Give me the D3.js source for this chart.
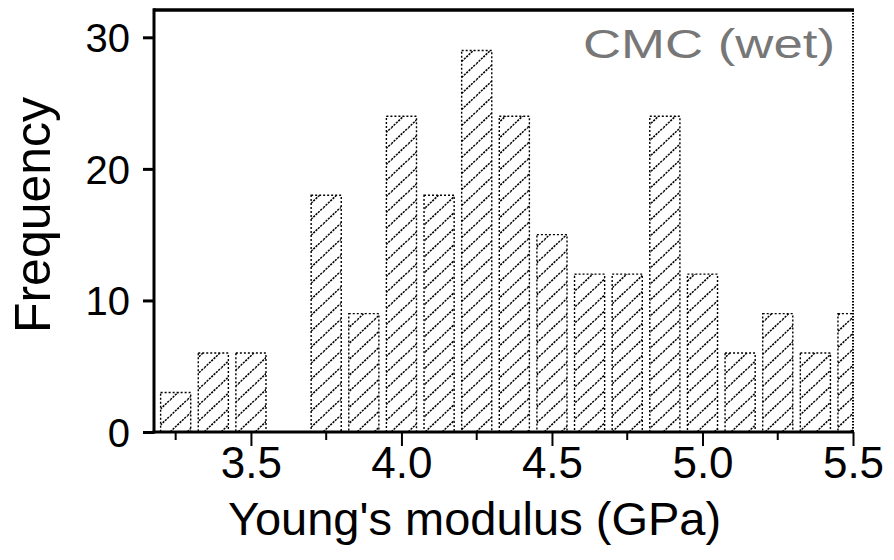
<!DOCTYPE html>
<html><head><meta charset="utf-8">
<script src="https://cdn.jsdelivr.net/npm/d3@7"></script>
<style>body{margin:0;background:#fff}svg{display:block}text{font-family:"Liberation Sans",Arial,sans-serif}</style>
</head><body>
<svg id="c" width="894" height="560"></svg>
<script>
const binCenters = [3.25,3.375,3.5,3.625,3.75,3.875,4.0,4.125,4.25,4.375,4.5,4.625,4.75,4.875,5.0,5.125,5.25,5.375,5.5];
const frequency  = [3,6,6,0,18,9,24,18,29,24,15,12,12,24,12,6,9,6,9];
const xTickMajor = [3.5,4.0,4.5,5.0,5.5];
const xTickMinor = [3.25,3.75,4.25,4.75,5.25];
const yTicks = [0,10,20,30];
const xTitle = "Young's modulus (GPa)";
const yTitle = "Frequency";
const label = "CMC (wet)";

const svg = d3.select("#c");
const L=154, R=853, T=10, B=432;
const x = d3.scaleLinear().domain([3.178,5.5]).range([L,R]);
const y = d3.scaleLinear().domain([0,32]).range([B,11]);
const bw = 0.1;

const defs = svg.append("defs");
const PW=17, PH=16;
const pat = defs.append("pattern").attr("id","hatch").attr("patternUnits","userSpaceOnUse")
  .attr("width",PW).attr("height",PH);
pat.append("path").attr("d",`M-2,${PH+2*PH/PW} L${PW+2},${-2*PH/PW} M${-PW-2},${PH+2*PH/PW} L2,${-2*PH/PW} M${PW-2},${PH+2*PH/PW} L${2*PW+2},${-2*PH/PW}`)
  .attr("stroke","#000").attr("stroke-width",1.5).attr("stroke-dasharray","2.2,1").attr("fill","none");
defs.append("clipPath").attr("id","clip").append("rect").attr("x",L).attr("y",T).attr("width",R-L).attr("height",B-T);

const bars = svg.append("g").attr("clip-path","url(#clip)");
const data = binCenters.map((c,i)=>({c, v:frequency[i]})).filter(d=>d.v>0);
bars.selectAll("rect").data(data).join("rect")
  .attr("x",d=>x(d.c-bw/2)).attr("width",d=>x(d.c+bw/2)-x(d.c-bw/2))
  .attr("y",d=>y(d.v)).attr("height",d=>y(0)-y(d.v))
  .attr("fill","url(#hatch)").attr("stroke","#000").attr("stroke-width",1.4).attr("stroke-dasharray","2,2");

// frame
svg.append("line").attr("x1",L).attr("x2",R+1).attr("y1",T).attr("y2",T).attr("stroke","#000").attr("stroke-width",3.5);
svg.append("line").attr("x1",R).attr("x2",R).attr("y1",T).attr("y2",B).attr("stroke","#000").attr("stroke-width",2).attr("stroke-dasharray","1.5,1.5");

// y axis
const yAxis = d3.axisLeft(y).tickValues(yTicks).tickSize(11).tickPadding(13).tickFormat(d3.format("d"));
const gy = svg.append("g").attr("transform",`translate(${L},0)`).call(yAxis);
gy.select(".domain").attr("d",`M0,${B+1.5}V${T-1.7}`).attr("stroke","#000").attr("stroke-width",3);
gy.selectAll(".tick line").attr("stroke","#000").attr("stroke-width",3);
gy.selectAll(".tick text").attr("font-size",40).attr("fill","#000").attr("dy","0.36em").style("font-family","'Liberation Sans',Arial,sans-serif");

// x axis
const xAxis = d3.axisBottom(x).tickValues(xTickMajor).tickSize(14).tickPadding(1).tickFormat(d3.format(".1f"));
const gx = svg.append("g").attr("transform",`translate(0,${B})`).call(xAxis);
gx.select(".domain").attr("d",`M${L-1.5},0H${R+1}`).attr("stroke","#000").attr("stroke-width",3);
gx.selectAll(".tick line").attr("stroke","#000").attr("stroke-width",2);
gx.selectAll(".tick text").attr("font-size",44).attr("fill","#000").attr("dy","0.71em").style("font-family","'Liberation Sans',Arial,sans-serif");
svg.append("g").selectAll("line").data(xTickMinor).join("line")
  .attr("x1",d=>x(d)).attr("x2",d=>x(d)).attr("y1",B).attr("y2",B+8).attr("stroke","#000").attr("stroke-width",2);

// titles
svg.append("text").attr("x",(L+R)/2-29).attr("y",535).attr("text-anchor","middle").attr("font-size",47).attr("fill","#000").text(xTitle);
svg.append("text").attr("transform","translate(50,215) rotate(-90)").attr("text-anchor","middle").attr("font-size",50).attr("fill","#000").text(yTitle);
svg.append("text").attr("x",583).attr("y",58).attr("font-size",40).attr("fill","#777")
  .attr("textLength",252).attr("lengthAdjust","spacingAndGlyphs").text(label);
</script>
</body></html>
